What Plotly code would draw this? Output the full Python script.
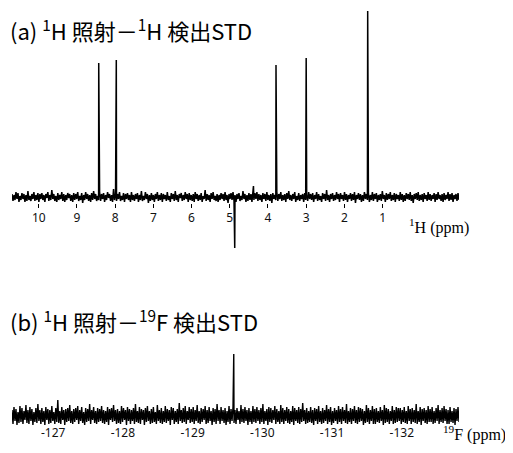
import numpy as np
import plotly.graph_objects as go

# The browser page adds an 8 px body margin; the figure is sized to sit inside it.
OFF = 8
W, H = 505, 445

# ---------------- (a) 1H-detected STD spectrum ----------------
h_ppm_start, h_ppm_end = 10.7, -1.0
h_tick_vals = [10, 9, 8, 7, 6, 5, 4, 3, 2, 1]
h_peak_ppm = [8.43, 7.97, 4.87, 4.38, 3.79, 3.00, 1.39]
h_peak_int = [134, 137, -51, 11, 132, 139, 186]
h_noise = [
    3, -4, 2, -3, 5, -2, 4, -5, 1, -3, 4, -2, 3, -5, 2, -4, 6, -3, 1, -4, 3, -2, 5, -4, 2, -3, 4, -5, 3, -2,
    4, -3, 2, -5, 3, -1, 5, -4, 2, -3, 7, -2, 3, -4, 1, -5, 4, -3, 2, -2, 5, -4, 3, -5, 2, -3, 4, -1, 3, -4,
    2, -5, 4, -3, 3, -2, 5, -4, 1, -3, 4, -6, 2, -3, 5, -2, 3, -4, 2, -5, 4, -3, 6, -2, 3, -4, 1, -3, 5, -4,
    3, -2, 4, -5, 2, -3, 5, -1, 3, -4, 2, -5, 8, -3, 2, -4, 3, -2, 5, -4, 1, -3, 4, -5, 3, -2, 4, -3, 2, -5,
    5, -3, 2, -4, 3, -2, 4, -5, 2, -3, 6, -4, 1, -3, 5, -2, 3, -6, 2, -4, 4, -3, 2, -5, 3, -2, 5, -4, 2, -3,
    4, -5, 3, -2, 2, -4, 5, -3, 1, -5, 4, -2, 3, -4, 6, -3, 2, -5, 3, -1, 4, -4, 2, -3, 5, -2, 3, -5, 4, -3,
    2, -4, 3, -5, 5, -2, 3, -4, 2, -3, 4, -5, 1, -2, 7, -4, 3, -3, 2, -5, 4, -2, 5, -3, 1, -4, 3, -5, 2, -3,
    4, -2, 3, -4, 5, -3, 2, -6, 3, -2, 4, -3, 5, -4, 2, -5, 3, -2, 4, -4, 1, -3, 6, -2, 3, -5, 2, -4, 4, -3,
    3, -5, 2, -3, 4, -2, 5, -4, 3, -3, 2, -5, 4, -2, 3, -4, 5, -3, 2, -4, 3, -6, 4, -2, 2, -3, 5, -4, 3, -2,
    5, -4, 2, -3, 3, -5, 4, -2, 6, -3, 2, -4, 3, -2, 5, -5, 1, -3, 4, -4, 2, -2, 3, -5, 4, -3, 2, -4, 5, -2,
    3, -3, 4, -5, 2, -2, 5, -4, 3, -3, 1, -5, 4, -2, 3, -4, 7, -3, 2, -5, 3, -2, 4, -4, 2, -3, 5, -2, 3, -5,
    4, -2, 2, -4, 5, -3, 3, -5, 2, -2, 4, -4, 3, -3, 5, -6, 2, -2, 4, -3, 3, -5, 2, -4, 5, -2, 3, -3, 4, -5,
    2, -3, 5, -4, 3, -2, 4, -5, 2, -3, 3, -4, 6, -2, 2, -5, 4, -3, 3, -2, 5, -4, 2, -3, 4, -5, 3, -2, 2, -4,
    5, -3, 3, -5, 2, -4, 4, -2, 3, -3, 5, -4, 2, -6, 3, -2, 4, -3, 5, -4, 2, -3, 3, -5, 4, -2, 2, -4, 5, -3,
    3, -4, 2, -2, 4, -5, 3, -3, 5, -2, 2, -4, 3, -5, 4, -3, 2, -2, 5, -4, 3, -3, 4, -5, 2, -2, 3, -4, 4, -3,
]

# ---------------- (b) 19F-detected STD spectrum ----------------
f_ppm_start, f_ppm_end = -126.41, -132.82
f_tick_vals = [-127, -128, -129, -130, -131, -132]
f_tick_text = ["-127", "-128", "-129", "-130", "-131", "-132"]
f_peak_ppm = [-129.59]
f_peak_int = [62]
f_noise = [
    6, -8, 9, -5, 7, -9, 4, -7, 10, -6, 8, -8, 5, -4, 11, -7, 6, -8, 9, -5, 7, -9, 4, -6, 8, -7, 12, -5, 6, -8,
    8, -6, 5, -9, 9, -4, 7, -8, 6, -7, 10, -5, 4, -8, 8, -6, 16, -7, 5, -8, 9, -4, 6, -9, 7, -6, 8, -5, 11, -7,
    5, -8, 7, -6, 8, -4, 10, -8, 6, -5, 9, -7, 4, -9, 8, -6, 7, -5, 12, -8, 6, -4, 9, -7, 5, -8, 8, -6, 7, -5,
    10, -7, 6, -8, 5, -6, 9, -9, 7, -4, 8, -6, 11, -5, 6, -8, 7, -7, 5, -8, 10, -6, 8, -4, 6, -9, 9, -5, 7, -8,
    6, -5, 8, -8, 12, -6, 5, -7, 9, -8, 7, -4, 6, -9, 8, -6, 10, -5, 5, -8, 7, -7, 9, -6, 4, -8, 11, -5, 6, -7,
    8, -8, 5, -6, 10, -7, 7, -5, 6, -9, 9, -4, 8, -8, 5, -6, 7, -8, 13, -5, 6, -7, 8, -6, 10, -8, 5, -4, 9, -7,
    7, -6, 9, -8, 6, -5, 11, -7, 5, -8, 8, -6, 7, -4, 10, -8, 6, -7, 9, -5, 5, -9, 8, -6, 7, -8, 12, -5, 6, -8,
    9, -5, 6, -7, 8, -9, 5, -6, 10, -8, 7, -5, 9, -7, 6, -8, 8, -4, 5, -8, 11, -6, 7, -7, 9, -5, 6, -9, 8, -6,
    5, -8, 10, -6, 7, -7, 9, -5, 6, -8, 8, -6, 12, -8, 5, -5, 7, -9, 9, -6, 8, -7, 6, -4, 10, -8, 7, -6, 5, -8,
    11, -6, 8, -8, 6, -5, 9, -7, 7, -8, 5, -6, 10, -9, 8, -5, 6, -7, 9, -8, 7, -6, 13, -5, 6, -8, 8, -7, 5, -6,
    9, -7, 6, -9, 8, -5, 7, -8, 10, -6, 5, -8, 8, -7, 6, -5, 11, -8, 7, -6, 9, -9, 5, -7, 8, -5, 6, -8, 10, -6,
    7, -8, 9, -5, 6, -7, 12, -8, 5, -6, 8, -8, 7, -5, 10, -7, 6, -8, 9, -6, 8, -5, 7, -9, 5, -7, 11, -6, 8, -8,
    6, -5, 10, -8, 7, -8, 8, -6, 5, -7, 9, -5, 6, -9, 11, -7, 8, -6, 7, -8, 5, -5, 10, -8, 6, -7, 9, -6, 8, -5,
    8, -8, 6, -6, 9, -7, 5, -8, 10, -5, 7, -8, 8, -6, 6, -7, 12, -8, 5, -6, 9, -9, 7, -5, 8, -7, 6, -8, 10, -6,
    7, -6, 9, -8, 5, -7, 8, -5, 11, -8, 6, -6, 8, -7, 10, -5, 7, -8, 6, -8, 9, -6, 5, -7, 8, -9, 7, -5, 9, -6,
]

titles = ["(a) <sup>1</sup>H 照射－<sup>1</sup>H 検出STD",
          "(b) <sup>1</sup>H 照射－<sup>19</sup>F 検出STD"]
axis_labels = ["<sup>1</sup>H (ppm)", "<sup>19</sup>F (ppm)"]


def build(start, end, noise, peak_ppm, peak_int):
    x = np.linspace(start, end, len(noise))
    xs = np.concatenate([x, np.array(peak_ppm)])
    ys = np.concatenate([np.array(noise, float), np.array(peak_int, float)])
    order = np.argsort(-xs)
    return xs[order], ys[order]


hx, hy = build(h_ppm_start, h_ppm_end, h_noise, h_peak_ppm, h_peak_int)
fx, fy = build(f_ppm_start, f_ppm_end, f_noise, f_peak_ppm, f_peak_int)


def px(p):
    return (p - OFF) / W


def py(p):
    return 1 - (p - OFF) / H


fig = go.Figure()
fig.add_trace(go.Scatter(x=hx, y=hy, mode="lines", xaxis="x", yaxis="y",
                         line=dict(color="black", width=1.5), hoverinfo="skip"))
fig.add_trace(go.Scatter(x=fx, y=fy, mode="lines", xaxis="x2", yaxis="y2",
                         line=dict(color="black", width=1.4), hoverinfo="skip"))

tickfont = dict(family="Noto Sans, Open Sans, sans-serif", size=12, color="#111")
xdom = [px(12), px(459)]

fig.update_layout(
    width=W, height=H,
    margin=dict(l=0, r=0, t=0, b=0),
    paper_bgcolor="white", plot_bgcolor="rgba(0,0,0,0)",
    showlegend=False,
    xaxis=dict(domain=xdom, range=[h_ppm_start, h_ppm_end], anchor="free",
               position=py(203), showline=False, showgrid=False, zeroline=False,
               ticks="outside", ticklen=4, tickcolor="black", tickwidth=1,
               tickvals=h_tick_vals, tickfont=tickfont),
    yaxis=dict(domain=[py(252), py(8)], range=[-55, 189], visible=False),
    xaxis2=dict(domain=xdom, range=[f_ppm_start, f_ppm_end], anchor="free",
                position=py(424), showline=False, showgrid=False, zeroline=False,
                ticks="", tickvals=f_tick_vals, ticktext=f_tick_text,
                tickfont=tickfont),
    yaxis2=dict(domain=[py(435), py(340)], range=[-19, 76], visible=False),
)

title_font = dict(family="Noto Sans CJK JP, Noto Sans, sans-serif", size=22, color="black")
for t, yc in zip(titles, [30, 320]):
    fig.add_annotation(text=t, xref="paper", yref="paper", x=px(8), y=py(yc),
                       xanchor="left", yanchor="middle", showarrow=False,
                       font=title_font)

label_font = dict(family="Liberation Serif, Times New Roman, serif", size=16, color="black")
for t, xl, yc in zip(axis_labels, [407, 441], [226, 433]):
    fig.add_annotation(text=t, xref="paper", yref="paper", x=px(xl), y=py(yc),
                       xanchor="left", yanchor="middle", showarrow=False,
                       font=label_font)

fig.write_html("out.html")
